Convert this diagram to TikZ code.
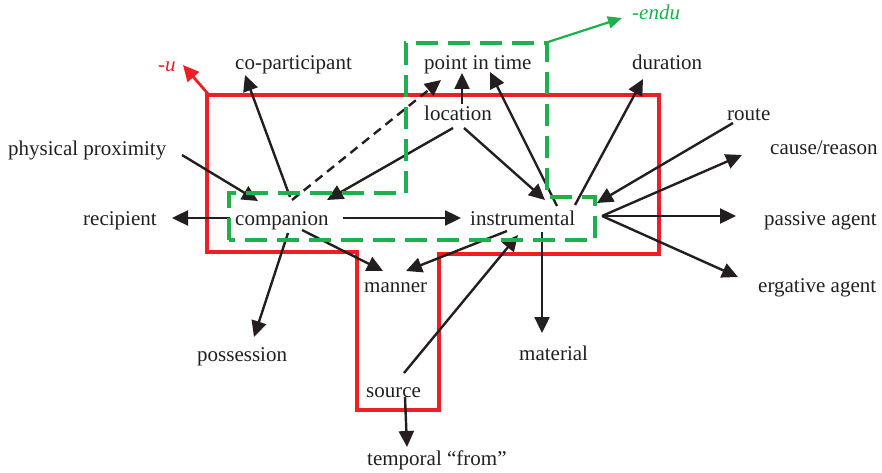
\documentclass[tikz,border=0pt]{standalone}
\usepackage{fontspec}
\setmainfont{Liberation Serif}
\usetikzlibrary{arrows.meta,calc}
\definecolor{rd}{RGB}{237,30,36}
\definecolor{gr}{RGB}{30,176,75}
\definecolor{bk}{RGB}{35,31,32}
\begin{document}
\begin{tikzpicture}[x=1pt,y=-1pt,
  lbl/.style={anchor=base west,inner sep=0pt,font=\fontsize{21}{25}\selectfont,text=bk},
  arr/.style={draw=bk,line width=2.4pt,-{Triangle[length=16pt,width=15pt]}},
  redarr/.style={draw=rd,line width=2.8pt,-{Triangle[length=16pt,width=15pt]}},
  grarr/.style={draw=gr,line width=2.2pt,-{Triangle[length=14pt,width=12pt]}},
  redbox/.style={draw=rd,line width=4pt},
  grbox/.style={draw=gr,line width=3.5pt,dash pattern=on 22pt off 10pt}]
\path[use as bounding box] (0,0) rectangle (882,473);
% red region
\draw[redbox] (207,95) -- (659,95) -- (659,254) -- (439,254) -- (439,410) -- (357,410) -- (357,252) -- (207,252) -- cycle;
% labels
\node[lbl] (cop) at (235,70) {co-participant};
\node[lbl] (pit) at (424,70) {point in time};
\node[lbl] (dur) at (632,70) {duration};
\node[lbl,text=gr] (endu) at (632,20) {\itshape -endu};
\node[lbl,text=rd] (u) at (158,72) {\itshape -u};
\node[lbl] (loc) at (424,121) {location};
\node[lbl] (route) at (727,121) {route};
\node[lbl] (phys) at (8,156) {physical proximity};
\node[lbl] (cause) at (770,155) {cause/reason};
\node[lbl] (recip) at (83,225) {recipient};
\node[lbl] (comp) at (235,225) {companion};
\node[lbl] (instr) at (470,225) {instrumental};
\node[lbl] (passive) at (764,225) {passive agent};
\node[lbl] (manner) at (364,292) {manner};
\node[lbl] (erg) at (758,292) {ergative agent};
\node[lbl] (poss) at (197,361) {possession};
\node[lbl] (mat) at (519,360) {material};
\node[lbl] (source) at (366,397) {source};
\node[lbl] (temp) at (367,465) {temporal “from”};
% black arrows
\draw[arr] ($(comp.base west)+(55,-28)$) -- ($(cop.base west)+(10,5)$);
\draw[arr,dash pattern=on 9pt off 6pt] ($(comp.base west)+(57,-25)$) -- ($(pit.base west)+(17,10)$);
\draw[arr] ($(loc.base west)+(38,-17)$) -- ($(pit.base west)+(38,3)$);
\draw[arr] ($(loc.base west)+(29,7)$) -- ($(comp.base west)+(92,-25)$);
\draw[arr] ($(loc.base west)+(40,7)$) -- ($(instr.base west)+(75,-25)$);
\draw[arr] ($(instr.base west)+(87,-19)$) -- ($(pit.base west)+(66,2)$);
\draw[arr] ($(instr.base west)+(105,-20)$) -- ($(dur.base west)+(11,9)$);
\draw[arr] ($(route.base west)+(6,2)$) -- ($(instr.base west)+(127,-22)$);
\draw[arr] ($(instr.base west)+(132,-9)$) -- ($(cause.base west)+(-28,0)$);
\draw[arr] ($(instr.base west)+(132,-9)$) -- ($(passive.base west)+(-28,-9)$);
\draw[arr] ($(instr.base west)+(132,-9)$) -- ($(erg.base west)+(-20,-15)$);
\draw[arr] ($(instr.base west)+(37,6)$) -- ($(manner.base west)+(42,-21)$);
\draw[arr] ($(source.base west)+(38,-24)$) -- ($(instr.base west)+(48,10)$);
\draw[arr] ($(instr.base west)+(72,7)$) -- ($(mat.base west)+(23,-27)$);
\draw[arr] ($(comp.base west)+(108,-7)$) -- ($(instr.base west)+(-9,-7)$);
\draw[arr] ($(comp.base west)+(-5,-7)$) -- ($(recip.base west)+(89,-7)$);
\draw[arr] ($(comp.base west)+(67,5)$) -- ($(manner.base west)+(19,-21)$);
\draw[arr] ($(comp.base west)+(53,8)$) -- ($(poss.base west)+(57,-24)$);
\draw[arr] ($(source.base west)+(39,0)$) -- ($(temp.base west)+(40,-18)$);
\draw[arr] ($(phys.base west)+(174,-1)$) -- ($(comp.base west)+(23,-24)$);
% green region
\draw[grbox] (229,240) -- (229,193) -- (406,193) -- (406,43) -- (547,43) -- (547,197) -- (595,197) -- (595,240) -- cycle;
% suffix arrows
\coordinate (redcorner) at (209,95);
\coordinate (grcorner) at (548,42);
\draw[redarr] (redcorner) -- ($(u.base west)+(25,-7)$);
\draw[grarr] (grcorner) -- ($(endu.base west)+(-10,-2)$);
\end{tikzpicture}
\end{document}
